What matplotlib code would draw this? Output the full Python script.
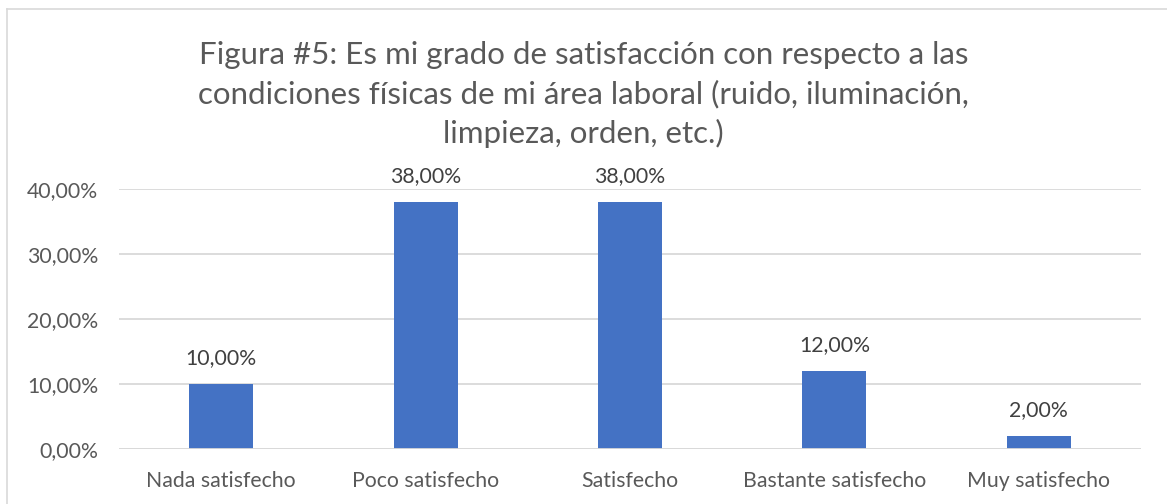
import matplotlib.pyplot as plt
import numpy as np
from matplotlib.ticker import MultipleLocator, FuncFormatter
from matplotlib.lines import Line2D

categorias = ['Nada satisfecho', 'Poco satisfecho', 'Satisfecho',
              'Bastante satisfecho', 'Muy satisfecho']
porcentajes = [10.0, 38.0, 38.0, 12.0, 2.0]
titulo = ('Figura #5: Es mi grado de satisfacción con respecto a las\n'
          'condiciones físicas de mi área laboral (ruido, iluminación,\n'
          'limpieza, orden, etc.)')

plt.rcParams['font.family'] = ['Lato', 'DejaVu Sans']

fig = plt.figure(figsize=(11.67, 5.04), dpi=100)
W, H = 1167, 504
# plot area in pixels: x 119..1141, y 189 (40%) .. 449 (0%)
ax = fig.add_axes([119 / W, 1 - 449 / H, (1141 - 119) / W, (449 - 189) / H])

x = np.arange(len(categorias))
bars = ax.bar(x, porcentajes, width=0.313, color='#4472C4', zorder=3)
for b, v in zip(bars, porcentajes):
    ax.text(b.get_x() + b.get_width() / 2, v + 2.4, ('%.2f%%' % v).replace('.', ','),
            ha='center', va='bottom', fontsize=15.3, color='#404040')

ax.set_xlim(-0.5, len(categorias) - 0.5)
ax.set_ylim(0, 40)
ax.yaxis.set_major_locator(MultipleLocator(10))
ax.yaxis.set_major_formatter(FuncFormatter(lambda v, p: ('%.2f%%' % v).replace('.', ',')))
ax.set_xticks(x)
ax.set_xticklabels(categorias)
ax.tick_params(axis='both', length=0, labelsize=15.3, colors='#595959')
ax.tick_params(axis='y', pad=15)
ax.tick_params(axis='x', pad=16)
ax.grid(axis='y', color='#D9D9D9', linewidth=1.3, zorder=0)
for s in ax.spines.values():
    s.set_visible(False)
ax.axhline(0, color='#D9D9D9', linewidth=1.3, zorder=4)

fig.text(0.5, 1 - 143 / H, titulo, ha='center', va='baseline', fontsize=22.5,
         color='#595959', linespacing=1.45, multialignment='center')

# chart border (top and left visible)
fig.add_artist(Line2D([7 / W, 7 / W], [0, 1 - 9 / H], transform=fig.transFigure,
                      color='#D9D9D9', linewidth=1.2))
fig.add_artist(Line2D([7 / W, 1], [1 - 9 / H, 1 - 9 / H], transform=fig.transFigure,
                      color='#D9D9D9', linewidth=1.2))

fig.savefig('out.png', dpi=100, facecolor='white')
